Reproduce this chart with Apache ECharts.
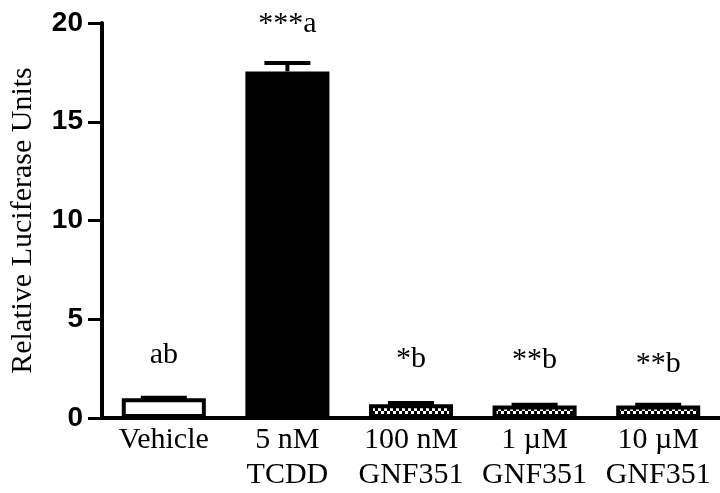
<!DOCTYPE html>
<html><head><meta charset="utf-8">
<script src="https://cdn.jsdelivr.net/npm/echarts@6/dist/echarts.min.js"></script>
<style>html,body{margin:0;padding:0;background:#fff}#c{width:720px;height:493px}</style>
</head><body><div id="c"></div>
<script>
const categories = ['Vehicle', '5 nM\nTCDD', '100 nM\nGNF351', '1 \u00b5M\nGNF351', '10 \u00b5M\nGNF351'];
const values = [1.0, 17.55, 0.7, 0.63, 0.63];
const errors = [0.03, 0.42, 0.06, 0.04, 0.04];
const annotations = ['ab', '***a', '*b', '**b', '**b'];
const yTicks = [0, 5, 10, 15, 20];

// checker pattern
const pc = document.createElement('canvas');
pc.width = 6; pc.height = 6;
const px = pc.getContext('2d');
px.fillStyle = '#000'; px.fillRect(0, 0, 6, 6);
px.fillStyle = '#fff'; px.fillRect(0, 0, 3, 3); px.fillRect(3, 3, 3, 3);
const checker = { image: pc, repeat: 'repeat' };

const fills = ['#ffffff', '#000000', checker, checker, checker];
const labelDist = [28, 32, 30, 30, 26];

const chart = echarts.init(document.getElementById('c'), null, { renderer: 'canvas' });
chart.setOption({
  animation: false,
  grid: { left: 100, right: 0, top: 23, bottom: 72, containLabel: false },
  xAxis: {
    type: 'category', data: categories,
    axisLine: { lineStyle: { color: '#000', width: 4 } },
    axisTick: { show: false },
    axisLabel: { color: '#000', fontFamily: 'Liberation Serif', fontSize: 30, lineHeight: 35, margin: 5, interval: 0 }
  },
  yAxis: {
    type: 'value', min: 0, max: 20, interval: 5,
    name: 'Relative Luciferase Units', nameLocation: 'middle', nameGap: 64,
    nameTextStyle: { color: '#000', fontFamily: 'Liberation Serif', fontSize: 30 },
    axisLine: { show: true, lineStyle: { color: '#000', width: 4 } },
    axisTick: { show: true, length: 14, lineStyle: { color: '#000', width: 3 } },
    axisLabel: { color: '#000', fontFamily: 'Liberation Sans', fontWeight: 'bold', fontSize: 28, margin: 19,
      formatter: v => yTicks.includes(v) ? String(v) : '' },
    splitLine: { show: false }
  },
  series: [
    {
      type: 'bar', barWidth: '68%',
      data: values.map((v, i) => ({
        value: v,
        itemStyle: { color: fills[i], borderColor: '#000', borderWidth: 4 },
        label: { show: true, position: 'top', distance: labelDist[i], formatter: annotations[i],
          color: '#000', fontFamily: 'Liberation Serif', fontSize: 30 }
      })),
      z: 2
    },
    {
      type: 'custom',
      data: values.map((v, i) => [i, v, errors[i]]),
      renderItem: (params, api) => {
        const x = api.value(0), v = api.value(1), e = api.value(2);
        const p0 = api.coord([x, v]);
        const p1 = api.coord([x, v + e]);
        const half = 23;
        return {
          type: 'group',
          children: [
            { type: 'line', shape: { x1: p0[0], y1: p0[1], x2: p1[0], y2: p1[1] }, style: { stroke: '#000', lineWidth: 4 } },
            { type: 'line', shape: { x1: p1[0] - half, y1: p1[1], x2: p1[0] + half, y2: p1[1] }, style: { stroke: '#000', lineWidth: 4 } }
          ]
        };
      },
      z: 1
    }
  ]
});
</script></body></html>
